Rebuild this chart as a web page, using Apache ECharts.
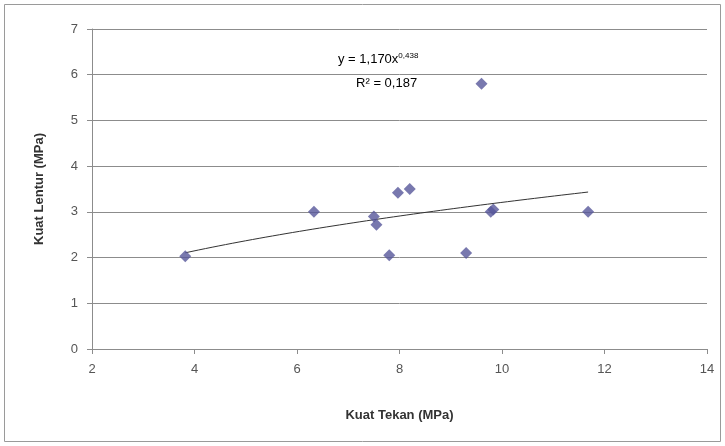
<!DOCTYPE html>
<html>
<head>
<meta charset="utf-8">
<script src="https://cdn.jsdelivr.net/npm/echarts@6/dist/echarts.min.js"></script>
<style>
html,body{margin:0;padding:0;background:#fff;}
#chart{width:725px;height:446px;}
</style>
</head>
<body>
<div id="chart"></div>
<script>
// Kuat tekan (compressive strength) vs kuat lentur (flexural strength), MPa
var kuatTekan  = [3.82, 6.33, 7.50, 7.55, 7.80, 7.97, 8.20, 9.30, 9.60, 9.78, 9.83, 11.68];
var kuatLentur = [2.03, 3.00, 2.90, 2.72, 2.05, 3.42, 3.50, 2.10, 5.80, 3.00, 3.05, 3.00];

// Power trendline y = a * x^b
var trendA = 1.170;
var trendB = 0.438;

var xTicks = [2, 4, 6, 8, 10, 12, 14];
var yTicks = [0, 1, 2, 3, 4, 5, 6, 7];

var points = kuatTekan.map(function (x, i) { return [x, kuatLentur[i]]; });

var xMinData = Math.min.apply(null, kuatTekan);
var xMaxData = Math.max.apply(null, kuatTekan);
var trend = [];
var steps = 60;
for (var k = 0; k <= steps; k++) {
  var x = xMinData + (xMaxData - xMinData) * k / steps;
  trend.push([x, trendA * Math.pow(x, trendB)]);
}

var chart = echarts.init(document.getElementById('chart'));
chart.setOption({
  animation: false,
  backgroundColor: '#ffffff',
  grid: { left: 92, right: 18, top: 29, bottom: 97, containLabel: false },
  xAxis: {
    type: 'value',
    min: xTicks[0], max: xTicks[xTicks.length - 1], interval: 2,
    name: 'Kuat Tekan (MPa)',
    nameLocation: 'middle', nameGap: 60,
    nameTextStyle: { fontFamily: 'Liberation Sans', fontWeight: 'bold', fontSize: 13, color: '#333' },
    axisLine: { show: true, onZero: false, lineStyle: { color: '#8c8c8c', width: 1 } },
    axisTick: { show: true, length: 5, lineStyle: { color: '#8c8c8c' } },
    axisLabel: { fontFamily: 'Liberation Sans', fontSize: 13, color: '#555', margin: 14 },
    splitLine: { show: false }
  },
  yAxis: {
    type: 'value',
    min: yTicks[0], max: yTicks[yTicks.length - 1], interval: 1,
    name: 'Kuat Lentur (MPa)',
    nameLocation: 'middle', nameGap: 46, nameRotate: 90,
    nameTextStyle: { fontFamily: 'Liberation Sans', fontWeight: 'bold', fontSize: 13, color: '#333' },
    axisLine: { show: true, lineStyle: { color: '#8c8c8c', width: 1 } },
    axisTick: { show: true, length: 5, lineStyle: { color: '#8c8c8c' } },
    axisLabel: { fontFamily: 'Liberation Sans', fontSize: 13, color: '#555', margin: 14 },
    splitLine: { show: true, lineStyle: { color: '#8c8c8c', width: 1 } }
  },
  graphic: [
    {
      type: 'rect', shape: { x: 4.5, y: 4.5, width: 716, height: 437 },
      style: { fill: 'none', stroke: '#9a9a9a', lineWidth: 1 }, silent: true
    },
    {
      type: 'text', left: 338, top: 52,
      style: {
        text: '{b|y = 1,170x}{s|0,438}\n{b|     R² = 0,187}',
        rich: {
          b: { fontFamily: 'Liberation Sans', fontSize: 13, color: '#555', lineHeight: 24 },
          s: { fontFamily: 'Liberation Sans', fontSize: 8, color: '#555', padding: [0, 0, 6, 0] }
        }
      }
    }
  ],
  series: [
    {
      type: 'line', data: trend, showSymbol: false, symbol: 'none',
      lineStyle: { color: '#333', width: 1 }, z: 3, silent: true
    },
    {
      type: 'scatter', data: points, symbol: 'diamond', symbolSize: 12,
      itemStyle: { color: '#56569a' }, z: 4
    }
  ]
});
</script>
</body>
</html>
